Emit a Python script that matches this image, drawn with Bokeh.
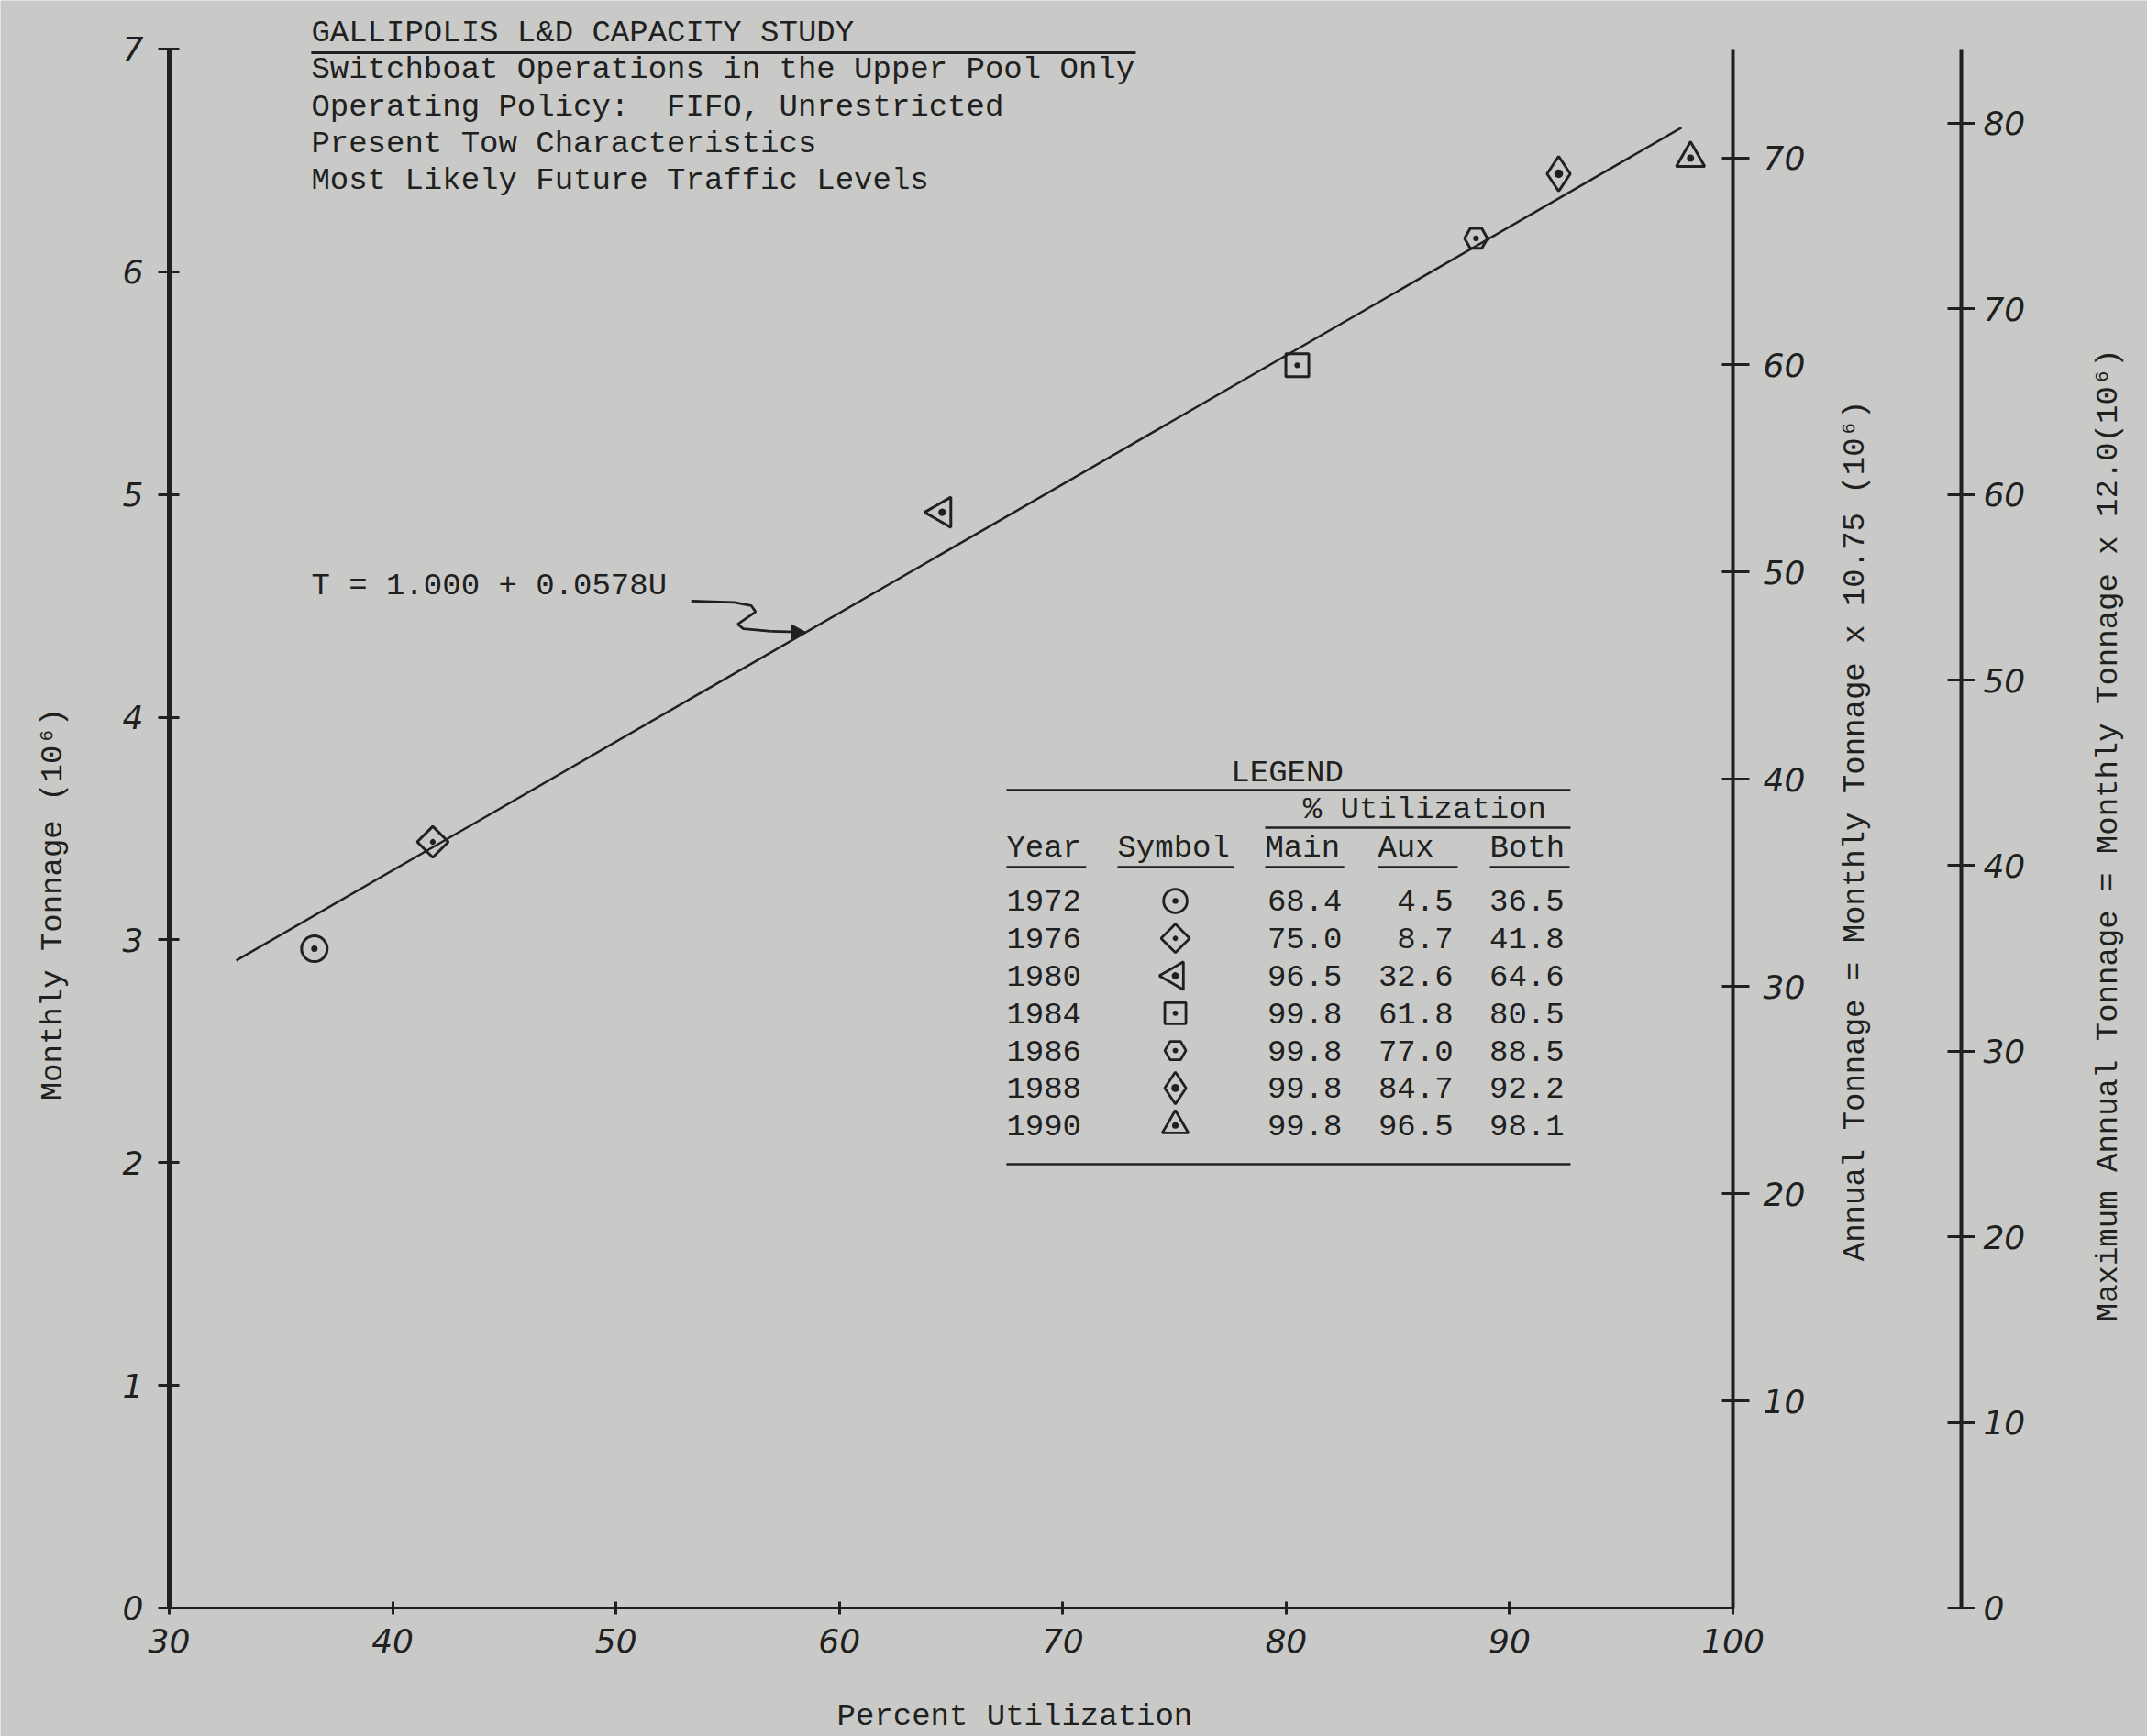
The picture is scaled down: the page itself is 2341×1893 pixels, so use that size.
import math

from bokeh.plotting import figure
from bokeh.models import (Range1d, LinearAxis, FixedTicker, ColumnDataSource,
                          Label, LabelSet, Arrow, NormalHead)
from bokeh.core.properties import value
from bokeh.embed import file_html
from bokeh.resources import INLINE

# ---- data -------------------------------------------------------------
years = ["1972", "1976", "1980", "1984", "1986", "1988", "1990"]
util_main = [68.4, 75.0, 96.5, 99.8, 99.8, 99.8, 99.8]
util_aux = [4.5, 8.7, 32.6, 61.8, 77.0, 84.7, 96.5]
util_both = [36.5, 41.8, 64.6, 80.5, 88.5, 92.2, 98.1]
monthly_tonnage = [2.96, 3.44, 4.92, 5.58, 6.15, 6.44, 6.51]   # 10^6 tons

# fitted line T = a + b*U
fit_intercept = 1.000
fit_slope = 0.0578
fit_u = [33.0, 97.7]

annual_factor = 10.75
max_annual_factor = 12.0

x_ticks = [30, 40, 50, 60, 70, 80, 90, 100]
y_ticks = [0, 1, 2, 3, 4, 5, 6, 7]
annual_ticks = [10, 20, 30, 40, 50, 60, 70]
max_annual_ticks = [0, 10, 20, 30, 40, 50, 60, 70, 80]

title_lines = [
    "GALLIPOLIS L&D CAPACITY STUDY",
    "Switchboat Operations in the Upper Pool Only",
    "Operating Policy:\u00a0 FIFO, Unrestricted",
    "Present Tow Characteristics",
    "Most Likely Future Traffic Levels",
]

# ---- styles -----------------------------------------------------------
BG = "#c9cac7"
INK = "#202020"
MONO = "Liberation Mono"
HAND = "DejaVu Sans"
FS = "34px"
markers = ["circle_dot", "square_dot", "triangle_dot", "square_dot",
           "hex_dot", "diamond_dot", "triangle_dot"]
marker_angles = [0, math.pi / 4, -math.pi / 6, 0, 0, 0, 0]
marker_sizes = [28, 24, 33, 25, 25, 38, 31]

# the frame spans the whole page; axes sit at fixed data locations
x_lo, x_hi = 22.446, 118.557
y_lo, y_hi = -0.5765, 7.2181
p = figure(width=2341, height=1893,
           x_range=Range1d(x_lo, x_hi), y_range=Range1d(y_lo, y_hi),
           x_axis_location=None, y_axis_location=None,
           output_backend="svg", toolbar_location=None, min_border=0,
           background_fill_color=BG, border_fill_color=BG,
           outline_line_color=None)
p.xgrid.visible = False
p.ygrid.visible = False
p.extra_y_ranges = {
    "annual": Range1d(y_lo * annual_factor, y_hi * annual_factor),
    "max_annual": Range1d(y_lo * max_annual_factor, y_hi * max_annual_factor),
}


def make_axis(ticks, bounds, loc, line_width, tick_in, tick_out, standoff, **kw):
    return LinearAxis(
        ticker=FixedTicker(ticks=ticks), bounds=bounds, fixed_location=loc,
        axis_line_color=INK, axis_line_width=line_width,
        major_tick_line_color=INK, major_tick_line_width=3,
        major_tick_in=tick_in, major_tick_out=tick_out,
        minor_tick_line_color=None,
        major_label_text_font=HAND, major_label_text_font_style="italic",
        major_label_text_font_size="36px", major_label_text_color=INK,
        major_label_standoff=standoff, **kw)


p.add_layout(make_axis(x_ticks, (30, 100), 0, 3, 7, 7, 16), "below")
p.add_layout(make_axis(y_ticks, (0, 7), 30, 5, 11, 12, 16), "left")
p.add_layout(make_axis(annual_ticks, (0, 7 * annual_factor), 100, 4, 12, 18, 15,
                       y_range_name="annual"), "right")
p.add_layout(make_axis(max_annual_ticks, (0, 7 * max_annual_factor), 110.22, 4, 15, 15, 9,
                       y_range_name="max_annual"), "right")


def add_text(x, y, text, align="left", angle=0.0):
    p.add_layout(Label(x=x, y=y, text=text, angle=angle,
                       text_align=align, text_baseline="middle",
                       text_font=MONO, text_font_size=FS, text_color=INK))


# axis titles
add_text(24.79, 3.16, "Monthly Tonnage (10\u2076)", "center", math.pi / 2)
add_text(67.85, -0.486, "Percent Utilization", "center")
add_text(105.50, 3.49, "Annual Tonnage = Monthly Tonnage x 10.75 (10\u2076)",
         "center", math.pi / 2)
add_text(116.83, 3.47, "Maximum Annual Tonnage = Monthly Tonnage x 12.0(10\u2076)",
         "center", math.pi / 2)

# ---- fitted line and points ------------------------------------------
fit_t = [fit_intercept + fit_slope * u for u in fit_u]
p.line(fit_u, fit_t, line_color=INK, line_width=2.5)

pts = ColumnDataSource(dict(u=util_both, t=monthly_tonnage, marker=markers,
                            angle=marker_angles, size=marker_sizes))
p.scatter("u", "t", source=pts, marker="marker", angle="angle", size="size",
          fill_color=None, line_color=INK, line_width=3)

# ---- title block ------------------------------------------------------
title_x = 36.36
title_y0 = 7.072
title_step = 0.166
for i, line in enumerate(title_lines):
    add_text(title_x, title_y0 - i * title_step, line)
p.segment(x0=[title_x], y0=[6.983], x1=[73.27], y1=[6.983],
          line_color=INK, line_width=3)

# ---- equation label with arrow ---------------------------------------
eq_u = 58.5
eq_t = fit_intercept + fit_slope * eq_u
add_text(title_x, 4.587, "T = %.3f + %.4fU" % (fit_intercept, fit_slope))
sq_dx = [-5.13, -3.20, -2.45, -2.25, -2.65, -3.05, -2.80, -1.56]
sq_dy = [0.140, 0.134, 0.120, 0.092, 0.064, 0.036, 0.016, 0.004]
p.line([eq_u + d for d in sq_dx], [eq_t + d for d in sq_dy],
       line_color=INK, line_width=2.8)
p.add_layout(Arrow(x_start=eq_u + sq_dx[-1], y_start=eq_t + sq_dy[-1],
                   x_end=eq_u, y_end=eq_t, line_color=INK, line_width=2.8,
                   end=NormalHead(size=16, fill_color=INK, line_color=INK)))

# ---- legend table -----------------------------------------------------
tab_left, tab_right = 67.48, 92.73
row_y0, row_step = 3.175, 0.168
row_y = [row_y0 - i * row_step for i in range(len(years))]
header_y = 3.413
col_sym = 75.04
col_main, col_aux, col_both = 82.51, 87.48, 92.45

label_style = dict(text_baseline="middle", text_font=value(MONO),
                   text_font_size=value(FS), text_color=INK)

head_src = ColumnDataSource(dict(
    x=[80.05, 86.2, tab_left, 72.45, 79.06, 84.11, 89.12],
    y=[3.751, 3.586, header_y, header_y, header_y, header_y, header_y],
    text=["LEGEND", "% Utilization", "Year", "Symbol", "Main", "Aux", "Both"],
    align=["center", "center", "left", "left", "left", "left", "left"]))
p.add_layout(LabelSet(x="x", y="y", text="text", source=head_src,
                      text_align="align", **label_style))

year_src = ColumnDataSource(dict(x=[tab_left] * len(years), y=row_y, text=years))
p.add_layout(LabelSet(x="x", y="y", text="text", source=year_src,
                      text_align="left", **label_style))
for col_x, vals in ((col_main, util_main), (col_aux, util_aux), (col_both, util_both)):
    src = ColumnDataSource(dict(x=[col_x] * len(vals), y=row_y,
                                text=["%.1f" % v for v in vals]))
    p.add_layout(LabelSet(x="x", y="y", text="text", source=src,
                          text_align="right", **label_style))

sym_src = ColumnDataSource(dict(x=[col_sym] * len(years), y=row_y, marker=markers,
                                angle=marker_angles,
                                size=[s * 0.92 for s in marker_sizes]))
p.scatter("x", "y", source=sym_src, marker="marker", angle="angle", size="size",
          fill_color=None, line_color=INK, line_width=2.8)

rule_y = [3.673, 3.504, 3.327, 3.327, 3.327, 3.327, 3.327, 1.993]
rule_x0 = [tab_left, 79.06, tab_left, 72.45, 79.06, 84.11, 89.12, tab_left]
rule_x1 = [tab_right, tab_right, 71.05, 77.67, 82.60, 87.68, 92.69, tab_right]
p.segment(x0=rule_x0, y0=rule_y, x1=rule_x1, y1=rule_y,
          line_color=INK, line_width=2.5)

open("out.html", "w").write(file_html(p, INLINE))
